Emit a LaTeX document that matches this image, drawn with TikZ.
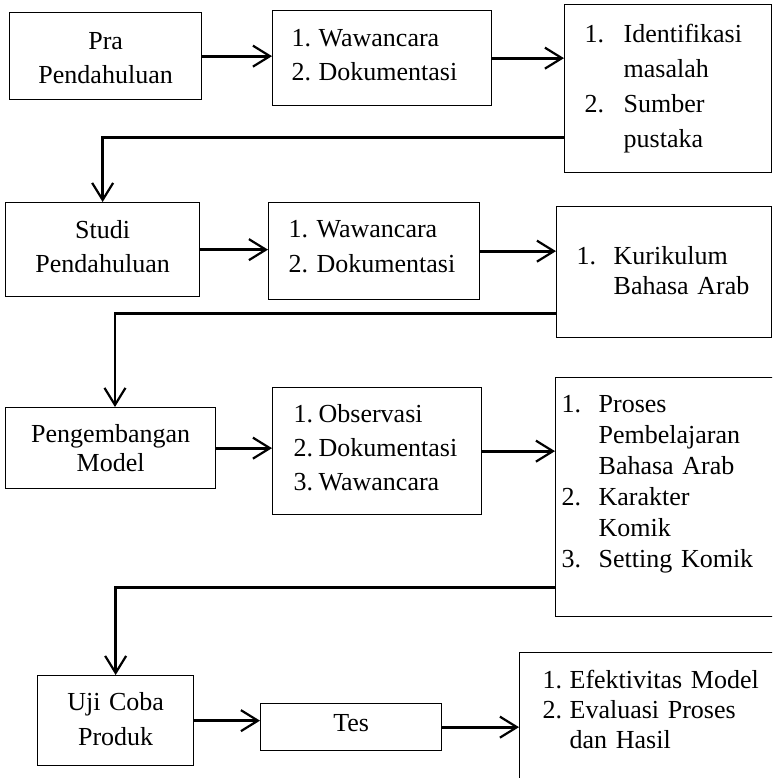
\documentclass[tikz,border=0pt]{standalone}
\usepackage{fontspec}
\setmainfont{Liberation Serif}
\usetikzlibrary{arrows.meta}

\begin{document}
\begin{tikzpicture}[x=1pt, y=-1pt,
    box/.style = {draw, line width=1.3pt, anchor=north west, inner ysep=0pt, font=\fontsize{26}{34}\selectfont},
    step box/.style = {box, align=center, inner xsep=4pt},
    list box/.style = {box, align=left},
    flow/.style = {line width=2.8pt, -{Straight Barb[length=17pt, width=21pt, line width=2.2pt]}}]
    \useasboundingbox (0,0) rectangle (772,778);
    \clip (0,0) rectangle (772,778);

    \begin{scope}
        \node[step box, text width=184pt, text height=37pt, text depth=50pt] (pra) at (9,12) {Pra\\Pendahuluan};
        \node[list box, inner xsep=19pt, text width=181pt, text height=36pt, text depth=59pt] (wwc1) at (272,10)
            {\begin{tabular}[t]{@{}p{27pt}@{}l@{}} 1. & Wawancara\\ 2. & Dokumentasi \end{tabular}};
        \node[list box, inner xsep=20pt, text width=167pt, text height=38pt, text depth=130pt, font=\fontsize{26}{35}\selectfont] (idn) at (564,4)
            {\begin{tabular}[t]{@{}p{39pt}@{}l@{}} 1. & Identifikasi\\ & masalah\\ 2. & Sumber\\ & pustaka \end{tabular}};

        \draw[flow] (pra.east) -- (pra.east -| wwc1.west);
        \draw[flow] (wwc1.east) -- (wwc1.east -| idn.west);
    \end{scope}

    \begin{scope}
        \node[step box, text width=186pt, text height=36pt, text depth=58pt] (studi) at (5,202) {Studi\\Pendahuluan};
        \node[list box, inner xsep=20pt, text width=171pt, text height=35pt, text depth=62pt, font=\fontsize{26}{35}\selectfont] (wwc2) at (268,202)
            {\begin{tabular}[t]{@{}p{28pt}@{}l@{}} 1. & Wawancara\\ 2. & Dokumentasi \end{tabular}};
        \node[list box, inner xsep=20pt, text width=175pt, text height=58pt, text depth=73pt, font=\fontsize{26}{30}\selectfont] (kur) at (556,206)
            {\begin{tabular}[t]{@{}p{37pt}@{}l@{}} 1. & Kurikulum\\ & Bahasa Arab \end{tabular}};

        \draw[flow] (idn.205) -| (studi.north);
        \draw[flow] (studi.east) -- (studi.east -| wwc2.west);
        \draw[flow] (wwc2.east) -- (wwc2.east -| kur.west);
    \end{scope}

    \begin{scope}
        \node[step box, text width=202pt, text height=35pt, text depth=46pt, font=\fontsize{26}{29}\selectfont] (peng) at (5,407) {Pengembangan\\Model};
        \node[list box, inner xsep=21pt, text width=167pt, text height=35pt, text depth=92pt] (obs) at (272,387)
            {\begin{tabular}[t]{@{}p{25pt}@{}l@{}} 1. & Observasi\\ 2. & Dokumentasi\\ 3. & Wawancara \end{tabular}};
        \node[list box, inner xsep=6pt, text width=288pt, text height=35pt, text depth=204pt, font=\fontsize{26}{31}\selectfont] (proc) at (555,377)
            {\begin{tabular}[t]{@{}p{37pt}@{}l@{}} 1. & Proses\\ & Pembelajaran\\ & Bahasa Arab\\ 2. & Karakter\\ & Komik\\ 3. & Setting Komik \end{tabular}};

        \draw[flow] (kur.201) -| (peng.84);
        \draw[flow] (peng.east) -- (peng.east -| obs.west);
        \draw[flow] (obs.east) -- (obs.east -| proc.west);
    \end{scope}

    \begin{scope}
        \node[step box, text width=148pt, text height=35pt, text depth=55pt, font=\fontsize{26}{35}\selectfont] (uji) at (37,675) {Uji Coba\\Produk};
        \node[step box, text width=173pt, text height=28pt, text depth=19pt] (tes) at (260,703) {Tes};
        \node[list box, inner xsep=23pt, text width=290pt, text height=36pt, text depth=142pt, font=\fontsize{26}{30}\selectfont] (eval) at (519,652)
            {\begin{tabular}[t]{@{}p{27pt}@{}l@{}} 1. & Efektivitas Model\\ 2. & Evaluasi Proses\\ & dan Hasil \end{tabular}};

        \draw[flow] (proc.211) -| (uji.north);
        \draw[flow] (uji.east) -- (uji.east -| tes.west);
        \draw[flow] (tes.east) -- (tes.east -| eval.west);
    \end{scope}
\end{tikzpicture}
\end{document}
